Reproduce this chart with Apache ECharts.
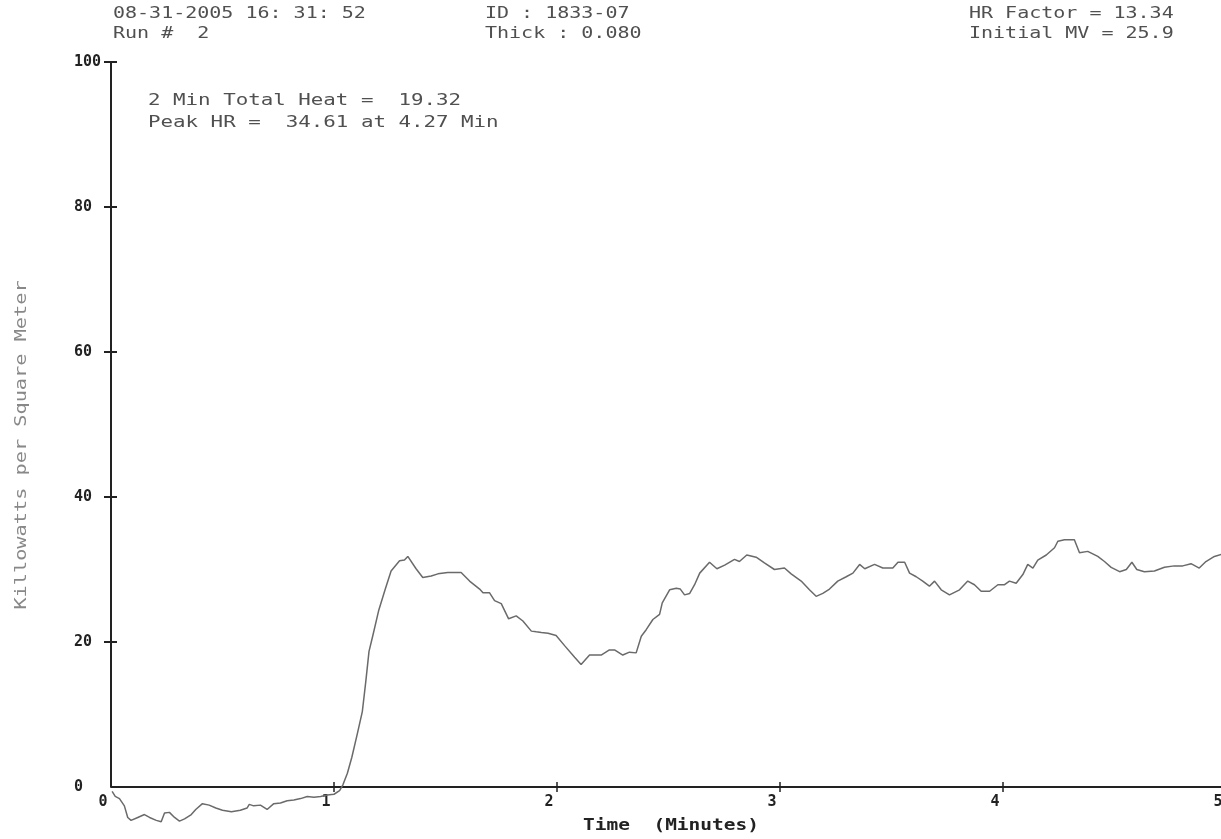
<!DOCTYPE html>
<html>
<head>
<meta charset="utf-8">
<title>Heat release rate</title>
<script src="https://cdn.jsdelivr.net/npm/echarts@6/dist/echarts.min.js"></script>
<style>
  html, body { margin: 0; padding: 0; background: #fff; }
  #chart { width: 1221px; height: 839px; }
</style>
</head>
<body>
<div id="chart"></div>
<script>
// time in minutes
const timeMin = [
  0.005, 0.019, 0.038, 0.06, 0.075, 0.09, 0.12, 0.15, 0.173, 0.203,
  0.225, 0.24, 0.262, 0.285, 0.307, 0.33, 0.36, 0.38, 0.41, 0.44,
  0.47, 0.50, 0.54, 0.58, 0.61, 0.62, 0.64, 0.67, 0.70, 0.73,
  0.76, 0.79, 0.82, 0.85, 0.88, 0.91, 0.94, 0.97, 1.00, 1.025,
  1.04, 1.06, 1.08, 1.105, 1.127, 1.142, 1.157, 1.175, 1.20, 1.23,
  1.256, 1.294, 1.316, 1.331, 1.368, 1.398, 1.436, 1.466, 1.51, 1.57,
  1.608, 1.653, 1.668, 1.697, 1.72, 1.75, 1.783, 1.817, 1.847, 1.885,
  1.907, 1.93, 1.96, 1.996, 2.034, 2.079, 2.108, 2.146, 2.198, 2.235,
  2.258, 2.295, 2.325, 2.355, 2.378, 2.40, 2.43, 2.46, 2.472, 2.505,
  2.535, 2.553, 2.572, 2.595, 2.617, 2.64, 2.684, 2.717, 2.752, 2.796,
  2.818, 2.851, 2.893, 2.93, 2.975, 3.02, 3.05, 3.095, 3.132, 3.162,
  3.192, 3.222, 3.259, 3.297, 3.327, 3.357, 3.38, 3.424, 3.461, 3.506,
  3.529, 3.559, 3.581, 3.611, 3.64, 3.67, 3.693, 3.723, 3.76, 3.805,
  3.842, 3.872, 3.902, 3.94, 3.977, 4.007, 4.029, 4.059, 4.089, 4.111,
  4.134, 4.156, 4.194, 4.231, 4.246, 4.276, 4.32, 4.343, 4.38, 4.425,
  4.455, 4.485, 4.523, 4.553, 4.578, 4.60, 4.634, 4.679, 4.724, 4.768,
  4.806, 4.843, 4.88, 4.91, 4.948, 4.98
];
// heat release rate, kW/m2
const hrValue = [
  -0.6, -1.3, -1.6, -2.6, -4.2, -4.6, -4.2, -3.8, -4.2, -4.6,
  -4.8, -3.6, -3.5, -4.2, -4.7, -4.4, -3.8, -3.1, -2.3, -2.5,
  -2.9, -3.2, -3.4, -3.2, -2.9, -2.4, -2.6, -2.5, -3.1, -2.3,
  -2.2, -1.9, -1.8, -1.6, -1.3, -1.4, -1.3, -1.1, -1.0, -0.5,
  0.3, 1.9, 4.1, 7.4, 10.4, 14.4, 18.7, 21.0, 24.3, 27.3,
  29.8, 31.2, 31.3, 31.8, 30.1, 28.9, 29.1, 29.4, 29.6, 29.6,
  28.4, 27.3, 26.8, 26.8, 25.7, 25.3, 23.2, 23.6, 22.9, 21.5,
  21.4, 21.3, 21.2, 20.9, 19.5, 17.9, 16.9, 18.2, 18.2, 18.9,
  18.9, 18.2, 18.6, 18.5, 20.8, 21.7, 23.1, 23.8, 25.4, 27.2,
  27.4, 27.3, 26.5, 26.7, 27.9, 29.5, 31.0, 30.1, 30.6, 31.4,
  31.1, 32.0, 31.7, 30.9, 30.0, 30.2, 29.4, 28.4, 27.2, 26.3,
  26.7, 27.3, 28.4, 29.0, 29.5, 30.7, 30.1, 30.7, 30.2, 30.2,
  31.0, 31.0, 29.5, 29.0, 28.4, 27.7, 28.4, 27.2, 26.5, 27.2,
  28.4, 27.9, 27.0, 27.0, 27.9, 27.9, 28.4, 28.1, 29.3, 30.7,
  30.2, 31.3, 32.0, 33.0, 33.9, 34.1, 34.1, 32.3, 32.5, 31.8,
  31.1, 30.3, 29.7, 30.0, 31.0, 30.0, 29.7, 29.8, 30.3, 30.5,
  30.5, 30.8, 30.2, 31.1, 31.8, 32.1
];
const yTicks = [0, 20, 40, 60, 80, 100];
const yMarks = [20, 40, 60, 80, 100];
const xTicks = [1, 2, 3, 4];

const headerLeft = ['08-31-2005 16: 31: 52', 'Run #  2'];
const headerMid = ['ID : 1833-07', 'Thick : 0.080'];
const headerRight = ['HR Factor = 13.34', 'Initial MV = 25.9'];
const notes = ['2 Min Total Heat =  19.32', 'Peak HR =  34.61 at 4.27 Min'];
const yName = 'Killowatts per Square Meter';
const xName = 'Time  (Minutes)';

const mono = '"DejaVu Sans Mono", "Liberation Mono", monospace';
const ink = '#222';
// x axis sits on the zero line: distance from the grid floor (-6) up to 0
const zeroLift = -43.5;

function txt(str, x, y, opts) {
  return Object.assign({
    type: 'text',
    x: x,
    y: y,
    scaleX: 1.25,
    silent: true,
    style: {
      text: str,
      font: '16px ' + mono,
      fill: '#505050',
      textAlign: 'left',
      textVerticalAlign: 'middle'
    }
  }, opts || {});
}

const graphics = [
  txt(headerLeft[0], 113, 14), txt(headerLeft[1], 113, 34),
  txt(headerMid[0], 485, 14), txt(headerMid[1], 485, 34),
  txt(headerRight[0], 969, 14), txt(headerRight[1], 969, 34),
  txt(notes[0], 148, 101, { scaleX: 1.3 }),
  txt(notes[1], 148, 123, { scaleX: 1.3 }),
  {
    type: 'text', x: 22, y: 445, rotation: Math.PI / 2, scaleX: 1.35, silent: true,
    style: { text: yName, font: '15px ' + mono, fill: '#888',
      textAlign: 'center', textVerticalAlign: 'middle' }
  },
  {
    type: 'text', x: 671, y: 826, scaleX: 1.3, silent: true,
    style: { text: xName, font: 'bold 15px ' + mono, fill: ink,
      textAlign: 'center', textVerticalAlign: 'middle' }
  }
];

const points = timeMin.map((t, i) => [t, hrValue[i]]);

const chart = echarts.init(document.getElementById('chart'));
chart.setOption({
  animation: false,
  backgroundColor: '#fff',
  grid: { left: 111, width: 1115, top: 62, bottom: 8.5, containLabel: false, outerBoundsMode: 'none' },
  xAxis: [
    {
      type: 'value', position: 'bottom', min: 0, max: 5, interval: 1, offset: zeroLift,
      axisLine: { onZero: false, lineStyle: { color: ink, width: 2 } },
      axisTick: { length: 5, customValues: xTicks, lineStyle: { color: ink, width: 1.5 } },
      axisLabel: { color: ink, fontFamily: mono, fontWeight: 'bold', fontSize: 15, margin: 8,
        padding: [0, 16, 0, 0], showMaxLabel: true, hideOverlap: false },
      splitLine: { show: false }
    },
    {
      type: 'value', position: 'bottom', min: 0, max: 5, interval: 1, offset: zeroLift,
      axisLine: { show: false, onZero: false },
      axisTick: { inside: true, length: 5, customValues: xTicks, lineStyle: { color: ink, width: 1.5 } },
      axisLabel: { show: false },
      splitLine: { show: false }
    }
  ],
  yAxis: [
    {
      type: 'value', position: 'left', min: -6, max: 100,
      axisLine: { show: false },
      axisTick: { length: 7, customValues: yMarks, lineStyle: { color: ink, width: 2 } },
      axisLabel: { customValues: yTicks, align: 'left', margin: 37, color: ink,
        fontFamily: mono, fontWeight: 'bold', fontSize: 15 },
      splitLine: { show: false }
    },
    {
      type: 'value', position: 'left', min: -6, max: 100,
      axisLine: { show: false },
      axisTick: { inside: true, length: 6, customValues: yMarks, lineStyle: { color: ink, width: 2 } },
      axisLabel: { show: false },
      splitLine: { show: false }
    }
  ],
  graphic: graphics,
  series: [
    {
      type: 'line',
      data: points,
      showSymbol: false,
      clip: false,
      lineStyle: { color: '#6a6a6a', width: 1.5 },
      markLine: {
        silent: true,
        symbol: ['none', 'none'],
        label: { show: false },
        lineStyle: { color: ink, width: 2, type: 'solid' },
        data: [[{ coord: [0, 0] }, { coord: [0, 100] }]]
      }
    }
  ]
});
</script>
</body>
</html>
